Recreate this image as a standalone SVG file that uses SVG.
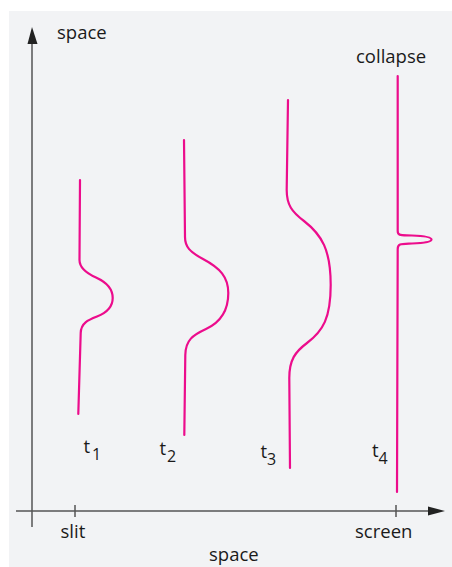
<svg xmlns="http://www.w3.org/2000/svg" width="452" height="567" viewBox="0 0 452 567">
<style>
.lbl{font-family:"Open Sans","Liberation Sans",sans-serif;font-size:18.5px;fill:#1a1a1a}
.sub{font-family:"Open Sans","Liberation Sans",sans-serif;font-size:16px;fill:#1a1a1a}
.axis{stroke:#555;stroke-width:1.5;fill:none}
.wave{stroke:#EC0C8C;stroke-width:2.2;fill:none;stroke-linecap:round;stroke-linejoin:round}
</style>
<rect x="0" y="0" width="452" height="567" fill="#ffffff"/>
<rect x="9" y="11" width="443" height="556" fill="#F2F3F5"/>
<g id="axes">
<line class="axis" x1="32" y1="42" x2="32" y2="527"/>
<polygon points="32,27 27.5,44 37.5,44" fill="#222"/>
<line class="axis" x1="16" y1="511" x2="430" y2="511"/>
<polygon points="445,511 428,506.5 428,515.5" fill="#222"/>
<line class="axis" x1="75" y1="505" x2="75" y2="517"/>
<line class="axis" x1="396" y1="505" x2="396" y2="517"/>
</g>
<g id="labels">
<text class="lbl" x="57" y="39">space</text>
<text class="lbl" x="356" y="63">collapse</text>
<text class="lbl" x="60.5" y="538">slit</text>
<text class="lbl" x="355" y="538">screen</text>
<text class="lbl" x="209" y="561">space</text>
</g>
<g id="t1">
<path class="wave" d="M80,180 L79.5,260 C79.5,268 86,273 96,277.5 C106,282 112.7,288 112.7,298 C112.7,308 106,313 97,316.5 C88,320 81,323 80.7,333 L78.3,414"/>
<text class="lbl" x="83.5" y="453">t</text><text class="sub" x="92" y="460">1</text>
</g>
<g id="t2">
<path class="wave" d="M184,140 L185,237 C185,247 190,252 203,259 C220,268 228.3,277 228.3,293 C228.3,312 219,323 206,329 C193,335 185.5,340 185.3,355 L184.3,435"/>
<text class="lbl" x="159.5" y="455">t</text><text class="sub" x="167" y="462">2</text>
</g>
<g id="t3">
<path class="wave" d="M288,100 L286.7,190 C286.7,205 292,212 304,221 C322,235 330.7,250 330.7,285 C330.7,318 323,331 307,343 C295,352 289.3,360 289.3,378 L290,468"/>
<text class="lbl" x="260.5" y="458">t</text><text class="sub" x="267" y="465">3</text>
</g>
<g id="t4">
<path class="wave" d="M397.7,76 L397.7,231 C397.7,236 401,235 412,235.5 C425,236 431.5,237.5 431.5,239.5 C431.5,241.5 425,243 412,243.5 C401,244 397.7,243.5 397.7,249 L397,492"/>
<text class="lbl" x="372" y="456.5">t</text><text class="sub" x="378.5" y="464">4</text>
</g>
</svg>
